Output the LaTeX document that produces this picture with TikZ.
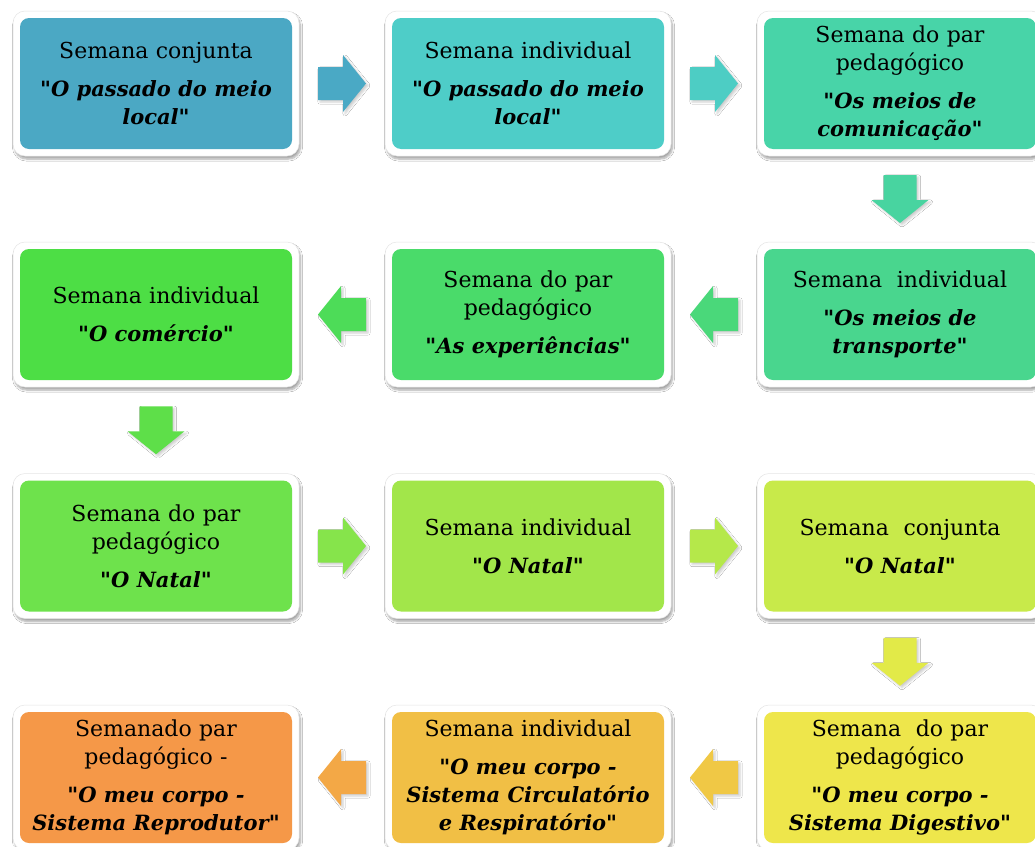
\documentclass[tikz,border=0pt]{standalone}
\usepackage{fontspec}
\setmainfont{DejaVu Serif}
\usetikzlibrary{calc,shadows.blur}
\definecolor{c1}{HTML}{4BA8C4}
\definecolor{c2}{HTML}{4ECDC8}
\definecolor{c3}{HTML}{48D4A8}
\definecolor{c4}{HTML}{49D68E}
\definecolor{c5}{HTML}{4ADB6A}
\definecolor{c6}{HTML}{4DDE45}
\definecolor{c7}{HTML}{6EE24C}
\definecolor{c8}{HTML}{A2E64A}
\definecolor{c9}{HTML}{C8EA4A}
\definecolor{c10}{HTML}{EEE64B}
\definecolor{c11}{HTML}{F1BF45}
\definecolor{c12}{HTML}{F59848}
\definecolor{a1}{HTML}{4AA9C5}
\definecolor{a2}{HTML}{4DCDC4}
\definecolor{a3}{HTML}{48D4A0}
\definecolor{a4}{HTML}{4AD87A}
\definecolor{a5}{HTML}{4DDC58}
\definecolor{a6}{HTML}{5EDF49}
\definecolor{a7}{HTML}{86E44B}
\definecolor{a8}{HTML}{B5E84A}
\definecolor{a9}{HTML}{E2EA48}
\definecolor{a10}{HTML}{F0C845}
\definecolor{a11}{HTML}{F3A846}
\tikzset{
  flowbox/.style={minimum width=286pt, minimum height=145pt, rounded corners=12pt,
    fill=white, draw=black!10, line width=0.5pt, align=center, text width=272pt,
    inner sep=0pt, font=\fontsize{22}{28}\selectfont,
    blur shadow={shadow xshift=1.5pt, shadow yshift=-3pt, shadow blur steps=6, shadow opacity=35},
    path picture={\fill[#1, rounded corners=9pt]
      ([shift={(7pt,7pt)}]path picture bounding box.south west) rectangle
      ([shift={(-7pt,-7pt)}]path picture bounding box.north east);}},
  arrowshadow/.style={blur shadow={shadow xshift=2pt, shadow yshift=-2pt, shadow blur steps=4, shadow opacity=20}}
}
\newcommand\flowarrow[4]{%
  \path[fill=#3, arrowshadow, shift={($(#1)!0.5!(#2)$)}, rotate=#4]
    (-24pt,-16.5pt) -- (1pt,-16.5pt) -- (1pt,-28.5pt) -- (24pt,0pt)
    -- (1pt,28.5pt) -- (1pt,16.5pt) -- (-24pt,16.5pt) -- cycle;}
\newcommand\bi{\fontsize{21}{28}\selectfont\bfseries\itshape}
\newcommand\q{\textquotedbl}
\begin{document}
\begin{tikzpicture}[x=1pt, y=-1pt]
\useasboundingbox (0,0) rectangle (1035,846);
\fill[white] (0,0) rectangle (1035,846);
% row 1
\node[flowbox=c1] (b1) at (156,83.5) {Semana conjunta\\[10pt]{\bi \q O passado do meio\\local\q}};
\node[flowbox=c2] (b2) at (528,83.5) {Semana individual\\[10pt]{\bi \q O passado do meio\\local\q}};
\node[flowbox=c3] (b3) at (900,83.5) {Semana do par\\pedagógico\\[10pt]{\bi \q Os meios de\\comunicação\q}};
% row 2
\node[flowbox=c4] (b4) at (900,314.5) {Semana~ individual\\[10pt]{\bi \q Os meios de\\transporte\q}};
\node[flowbox=c5] (b5) at (528,314.5) {Semana do par\\pedagógico\\[10pt]{\bi \q As experiências\q}};
\node[flowbox=c6] (b6) at (156,314.5) {Semana individual\\[10pt]{\bi \q O comércio\q}};
% row 3
\node[flowbox=c7] (b7) at (156,546) {Semana do par\\pedagógico\\[10pt]{\bi \q O Natal\q}};
\node[flowbox=c8] (b8) at (528,546) {Semana individual\\[10pt]{\bi \q O Natal\q}};
\node[flowbox=c9] (b9) at (900,546) {Semana~ conjunta\\[10pt]{\bi \q O Natal\q}};
% row 4
\node[flowbox=c10] (b10) at (900,777.5) {Semana~ do par\\pedagógico\\[10pt]{\bi \q O meu corpo -\\Sistema Digestivo\q}};
\node[flowbox=c11] (b11) at (528,777.5) {Semana individual\\[10pt]{\bi \q O meu corpo -\\Sistema Circulatório\\e Respiratório\q}};
\node[flowbox=c12] (b12) at (156,777.5) {Semanado par\\pedagógico -\\[10pt]{\bi \q O meu corpo -\\Sistema Reprodutor\q}};
% arrows
\flowarrow{b1}{b2}{a1}{0}
\flowarrow{b2}{b3}{a2}{0}
\flowarrow{b3}{b4}{a3}{-90}
\flowarrow{b4}{b5}{a4}{180}
\flowarrow{b5}{b6}{a5}{180}
\flowarrow{b6}{b7}{a6}{-90}
\flowarrow{b7}{b8}{a7}{0}
\flowarrow{b8}{b9}{a8}{0}
\flowarrow{b9}{b10}{a9}{-90}
\flowarrow{b10}{b11}{a10}{180}
\flowarrow{b11}{b12}{a11}{180}
\end{tikzpicture}
\end{document}
